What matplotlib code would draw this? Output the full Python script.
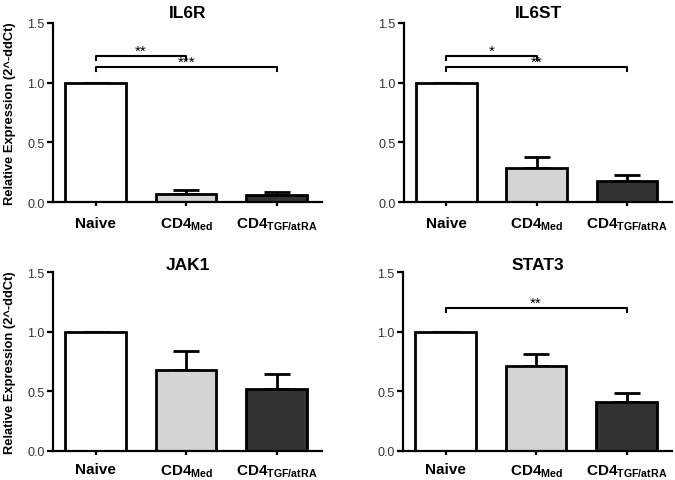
import matplotlib
matplotlib.use("Agg")
import matplotlib.pyplot as plt
import numpy as np

plt.rcParams['font.family'] = ['Liberation Sans', 'DejaVu Sans']
plt.rcParams['mathtext.fontset'] = 'custom'
plt.rcParams['mathtext.rm'] = 'Liberation Sans'
plt.rcParams['mathtext.bf'] = 'Liberation Sans:bold'

groups = ['Naive', r'$\mathbf{CD4_{Med}}$', r'$\mathbf{CD4_{TGF/atRA}}$']
colors = ['white', '#d4d4d4', '#333333']

genes = ['IL6R', 'IL6ST', 'JAK1', 'STAT3']
means = {
    'IL6R': [1.0, 0.07, 0.06],
    'IL6ST': [1.0, 0.283, 0.174],
    'JAK1': [1.0, 0.676, 0.52],
    'STAT3': [1.0, 0.709, 0.408],
}
errs = {
    'IL6R': [0.0, 0.03, 0.024],
    'IL6ST': [0.0, 0.097, 0.053],
    'JAK1': [0.0, 0.162, 0.125],
    'STAT3': [0.0, 0.101, 0.075],
}
# (start group, end group, bracket height, label)
brackets = {
    'IL6R': [(0, 1, 1.226, '**'), (0, 2, 1.133, '***')],
    'IL6ST': [(0, 1, 1.226, '*'), (0, 2, 1.133, '**')],
    'JAK1': [],
    'STAT3': [(0, 2, 1.20, '**')],
}

fig = plt.figure(figsize=(6.75, 4.81), dpi=100)
W, H = 675, 481
# axes boxes in pixels: left, right, top, bottom
boxes = [(53, 322, 24, 203), (404, 672, 24, 203),
         (53, 322, 273, 452), (403, 672, 273, 452)]

x = np.arange(3)
for i, gene in enumerate(genes):
    l, r, t, b = boxes[i]
    ax = fig.add_axes([l / W, 1 - b / H, (r - l) / W, (b - t) / H])
    ax.bar(x, means[gene], width=0.67, color=colors, edgecolor='black',
           linewidth=2, zorder=2)
    ax.errorbar(x, means[gene], yerr=[np.zeros(3), errs[gene]], fmt='none',
                ecolor='black', elinewidth=2, capsize=9.5, capthick=2, zorder=1)
    for g0, g1, h, lab in brackets[gene]:
        ax.plot([g0, g0, g1, g1], [h - 0.035, h, h, h - 0.035], color='black',
                lw=1.5, clip_on=False)
        ax.text((g0 + g1) / 2, h - 0.02, lab, ha='center', va='bottom',
                fontsize=11)
    ax.set_xlim(-0.47, 2.5)
    ax.set_ylim(0, 1.5)
    ax.set_yticks([0, 0.5, 1.0, 1.5])
    ax.set_yticklabels(['0.0', '0.5', '1.0', '1.5'], fontsize=9, color='#333333')
    ax.set_xticks(x)
    ax.set_xticklabels(groups, fontsize=11, fontweight='bold')
    ax.spines['top'].set_visible(False)
    ax.spines['right'].set_visible(False)
    ax.spines['left'].set_linewidth(1.6)
    ax.spines['bottom'].set_linewidth(1.6)
    ax.tick_params(axis='y', width=1.6, length=4, direction='out', pad=2)
    ax.tick_params(axis='x', width=1.6, length=3, direction='out',
                   pad=7 if i < 2 else 5)
    ax.set_title(gene, fontsize=12.5, fontweight='bold',
                 pad=4 if i < 2 else -1)
    if i % 2 == 0:
        ax.set_ylabel('Relative Expression (2^-ddCt)', fontsize=9.3,
                      fontweight='bold', labelpad=8)

fig.savefig('out.png', dpi=100)
